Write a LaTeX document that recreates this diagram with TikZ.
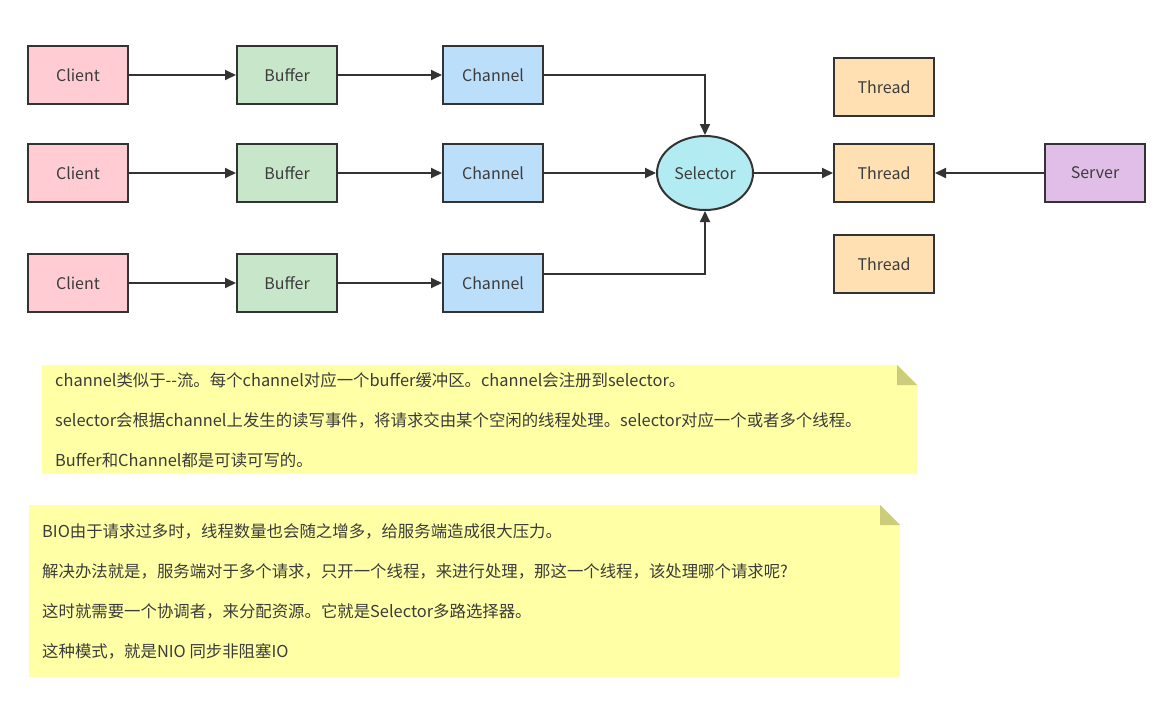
\documentclass[tikz,border=0pt]{standalone}
\usepackage{fontspec}
\setmainfont{Noto Sans CJK SC}
\usetikzlibrary{arrows.meta,shapes.geometric}
\definecolor{linegrey}{RGB}{51,51,51}
\definecolor{textgrey}{RGB}{60,60,60}
\definecolor{clientpink}{RGB}{255,204,212}
\definecolor{bufgreen}{RGB}{200,230,201}
\definecolor{chanblue}{RGB}{187,222,251}
\definecolor{selcyan}{RGB}{178,235,242}
\definecolor{threadorange}{RGB}{255,224,178}
\definecolor{serverpurple}{RGB}{225,190,231}
\definecolor{noteyellow}{RGB}{255,255,165}
\definecolor{notefold}{RGB}{204,204,122}

\begin{document}
\begin{tikzpicture}[x=1pt,y=-1pt]

%
% Styles
%
\tikzstyle{box}    = [rectangle,draw=linegrey,line width=2pt,minimum width=100pt,minimum height=58pt,inner sep=0pt,text=textgrey,font=\fontsize{16}{18}\selectfont]
\tikzstyle{client} = [box,fill=clientpink]
\tikzstyle{buffer} = [box,fill=bufgreen]
\tikzstyle{chan}   = [box,fill=chanblue]
\tikzstyle{thread} = [box,fill=threadorange]
\tikzstyle{server} = [box,fill=serverpurple]
\tikzstyle{sel}    = [ellipse,draw=linegrey,line width=2pt,fill=selcyan,minimum width=96pt,minimum height=74pt,inner sep=0pt,text=textgrey,font=\fontsize{16}{18}\selectfont]
\tikzstyle{edge}   = [-{Stealth[length=11pt,width=10pt,inset=0pt]},line width=1.8pt,draw=linegrey]
\tikzstyle{note}   = [fill=noteyellow]
\tikzstyle{fold}   = [fill=notefold]
\tikzstyle{line}   = [anchor=west,inner sep=0pt,text=textgrey,font=\fontsize{16.4}{18}\selectfont]

\useasboundingbox (0,0) rectangle (1158,702);

\node[client] (c1) at (78,75)  {Client};
\node[client] (c2) at (78,173) {Client};
\node[client] (c3) at (78,283) {Client};
\node[buffer] (b1) at (287,75)  {Buffer};
\node[buffer] (b2) at (287,173) {Buffer};
\node[buffer] (b3) at (287,283) {Buffer};
\node[chan]   (h1) at (493,75)  {Channel};
\node[chan]   (h2) at (493,173) {Channel};
\node[chan]   (h3) at (493,283) {Channel};
\node[sel]    (s)  at (705,173) {Selector};
\node[thread] (t1) at (884,87)  {Thread};
\node[thread] (t2) at (884,173) {Thread};
\node[thread] (t3) at (884,264) {Thread};
\node[server] (v)  at (1095,173) {Server};

\draw[edge] (c1) -- (b1);
\draw[edge] (c2) -- (b2);
\draw[edge] (c3) -- (b3);
\draw[edge] (b1) -- (h1);
\draw[edge] (b2) -- (h2);
\draw[edge] (b3) -- (h3);
\draw[edge] (h1.east) -| (s.north);
\draw[edge] (h2) -- (s);
\draw[edge] ([yshift=9pt]h3.east) -| (s.south);
\draw[edge] (s) -- (t2);
\draw[edge] (v) -- (t2);

% notes
\fill[note] (42,365) -- (897,365) -- (917,385) -- (917,474) -- (42,474) -- cycle;
\fill[fold] (897,365) -- (917,385) -- (897,385) -- cycle;
\node[line] (n1a) at (55,380) {channel类似于{-}{-}流。每个channel对应一个buffer缓冲区。channel会注册到selector。};
\node[line] (n1b) at (55,420) {selector会根据channel上发生的读写事件，将请求交由某个空闲的线程处理。selector对应一个或者多个线程。};
\node[line] (n1c) at (55,460) {Buffer和Channel都是可读可写的。};

\fill[note] (29,505) -- (880,505) -- (900,525) -- (900,677) -- (29,677) -- cycle;
\fill[fold] (880,505) -- (900,525) -- (880,525) -- cycle;
\node[line] (n2a) at (42,531) {BIO由于请求过多时，线程数量也会随之增多，给服务端造成很大压力。};
\node[line] (n2b) at (42,571) {解决办法就是，服务端对于多个请求，只开一个线程，来进行处理，那这一个线程，该处理哪个请求呢?};
\node[line] (n2c) at (42,611) {这时就需要一个协调者，来分配资源。它就是Selector多路选择器。};
\node[line] (n2d) at (42,651) {这种模式，就是NIO 同步非阻塞IO};

\end{tikzpicture}
\end{document}
